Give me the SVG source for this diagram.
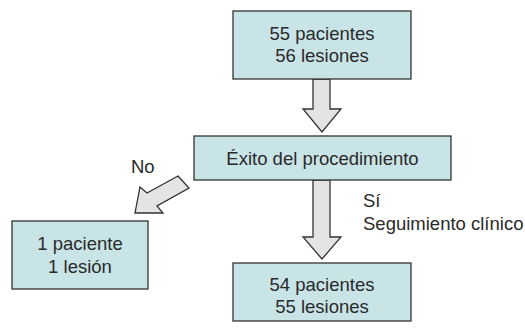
<svg xmlns="http://www.w3.org/2000/svg" width="525" height="331" viewBox="0 0 525 331">
<style>
.box{fill:#c9e4e7;stroke:#333;stroke-width:1.3}
.arr{fill:#e4e4e6;stroke:#333;stroke-width:1.3;stroke-linejoin:miter}
text{font-family:"Liberation Sans",Arial,sans-serif;font-size:18.5px;fill:#2a2a2a}
.c{text-anchor:middle}
</style>
<rect width="525" height="331" fill="#fff"/>
<g id="connectors">
<polygon class="arr" points="313,79 330,79 330,109 341,109 322,132 303,109 313,109"/>
<polygon class="arr" points="313,180 330,180 330,237 341,237 322,259 303,237 313,237"/>
<polygon class="arr" points="178,176 189,188 157,206 163,213 135,213 140,187 147,193"/>
</g>
<g id="n1">
<rect class="box" x="233" y="11" width="178" height="68"/>
<text class="c" x="322" y="40">55 pacientes</text>
<text class="c" x="322" y="62">56 lesiones</text>
</g>
<g id="n2">
<rect class="box" x="194" y="136" width="257" height="44"/>
<text class="c" x="322.5" y="165">Éxito del procedimiento</text>
</g>
<g id="n3">
<rect class="box" x="12" y="221" width="136" height="68"/>
<text class="c" x="80" y="250">1 paciente</text>
<text class="c" x="80" y="273">1 lesión</text>
</g>
<g id="n4">
<rect class="box" x="233" y="263" width="178" height="58"/>
<text class="c" x="322" y="291">54 pacientes</text>
<text class="c" x="322" y="313">55 lesiones</text>
</g>
<g id="labels">
<text x="131" y="173">No</text>
<text x="363" y="207">Sí</text>
<text x="363" y="230">Seguimiento clínico</text>
</g>
</svg>
